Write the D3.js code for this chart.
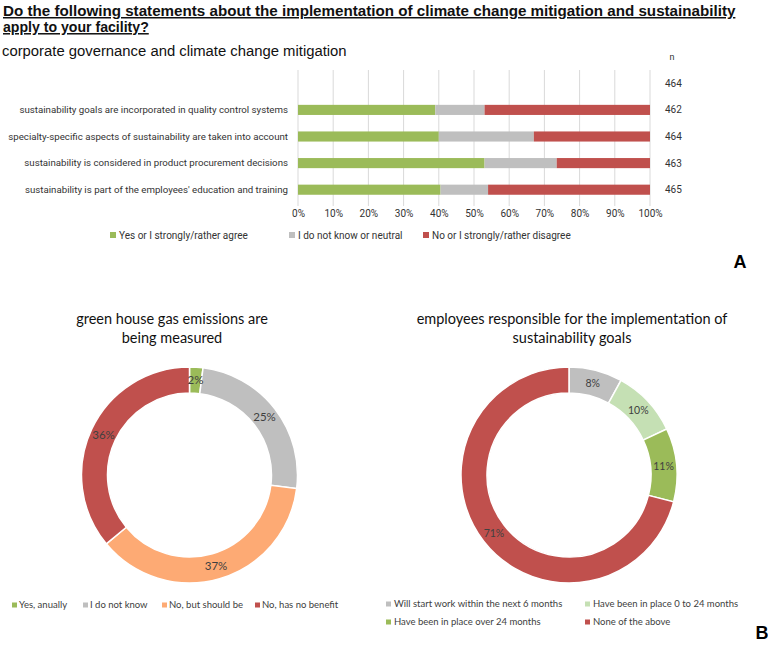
<!DOCTYPE html>
<html><head><meta charset="utf-8">
<script src="https://cdn.jsdelivr.net/npm/d3@7"></script>
<style>body{margin:0;background:#fff}svg{display:block}</style>
</head><body>
<script>
// ---------- DATA ----------
const titleLines = ["Do the following statements about the implementation of climate change mitigation and sustainability", "apply to your facility?"];
const barTitle = "corporate governance and climate change mitigation";
const barCategories = ["",
  "sustainability goals are incorporated in quality control systems",
  "specialty-specific aspects of sustainability are taken into account",
  "sustainability is considered in product procurement decisions",
  "sustainability is part of the employees' education and training"];
const agreeVals = [null, 39, 40, 53, 40.5];
const neutralVals = [null, 14, 27, 20.5, 13.5];
const disagreeVals = [null, 47, 33, 26.5, 46];
const nVals = [464, 462, 464, 463, 465];
const barSeries = ["Yes or I strongly/rather agree", "I do not know or neutral", "No or I strongly/rather disagree"];
const xTickVals = [0,10,20,30,40,50,60,70,80,90,100];

const ghgTitle = ["green house gas emissions are", "being measured"];
const ghgLabels = ["Yes, anually", "I do not know", "No, but should be", "No, has no benefit"];
const ghgVals = [2, 25, 37, 36];

const empTitle = ["employees responsible for the implementation of", "sustainability goals"];
const empLabels = ["Will start work within the next 6 months", "Have been in place 0 to 24 months", "Have been in place over 24 months", "None of the above"];
const empVals = [8, 10, 11, 71];

// ---------- STYLE ----------
const cGreen = "#9BBB59", cGray = "#BFBFBF", cRed = "#C0504D", cOrange = "#FDAA74", cLight = "#C5E0B4";
const barColors = [cGreen, cGray, cRed];
const ghgColors = [cGreen, cGray, cOrange, cRed];
const empColors = [cGray, cLight, cGreen, cRed];

const W = 768, H = 650;
const svg = d3.select("body").append("svg").attr("width", W).attr("height", H);

// ---------- TITLE ----------
const narrow = "'Liberation Sans',sans-serif";
function fitText(x0, y0, txt, targetW, opts) {
  const t = svg.append("text").attr("x", 0).attr("y", 0).attr("font-family", narrow)
    .attr("font-size", opts.size).attr("fill", "#111")
    .attr("font-weight", opts.bold ? "bold" : "normal")
    .attr("text-decoration", opts.underline ? "underline" : null).text(txt);
  const w = t.node().getComputedTextLength();
  t.attr("transform", `translate(${x0},${y0}) scale(${targetW / w},1)`);
  return t;
}
fitText(3, 16, titleLines[0], 733, {size: 15, bold: true, underline: true});
fitText(3, 32, titleLines[1], 146, {size: 15, bold: true, underline: true});
fitText(2, 56, barTitle, 345, {size: 15});

// ---------- BAR CHART ----------
const x = d3.scaleLinear().domain([0, 100]).range([298, 650]);
const y = d3.scaleBand().domain(d3.range(barCategories.length)).range([70, 203]).paddingInner(0.62).paddingOuter(0.31);
const gBar = svg.append("g").attr("font-family", "Roboto, 'Liberation Sans', sans-serif");

// grid
gBar.append("g").selectAll("line").data(xTickVals).join("line")
  .attr("x1", d => x(d)).attr("x2", d => x(d)).attr("y1", 70).attr("y2", 206)
  .attr("stroke", "#d9d9d9").attr("stroke-width", 1);

// x axis
const xAxis = d3.axisBottom(x).tickValues(xTickVals).tickFormat(d => d + "%").tickSize(0).tickPadding(0);
const ax = gBar.append("g").attr("transform", "translate(0,210)").call(xAxis);
ax.select(".domain").remove();
ax.selectAll("text").attr("font-size", 10).attr("fill", "#333").attr("font-family", "Roboto, 'Liberation Sans', sans-serif");

// stacked bars
const stackRows = barCategories.map((c, i) => ({i, a: agreeVals[i], b: neutralVals[i], c: disagreeVals[i]}));
const stacked = d3.stack().keys(["a", "b", "c"]).value((d, k) => d[k] == null ? 0 : d[k])(stackRows);
stacked.forEach((s, si) => {
  gBar.append("g").selectAll("rect").data(s.filter(d => d.data.a != null)).join("rect")
    .attr("x", d => x(d[0])).attr("width", d => x(d[1]) - x(d[0]))
    .attr("y", d => y(d.data.i)).attr("height", y.bandwidth())
    .attr("fill", barColors[si]);
});

// category labels
const yAxis = d3.axisLeft(y).tickFormat(i => barCategories[i]).tickSize(0).tickPadding(0);
const ay = gBar.append("g").attr("transform", "translate(288,0)").call(yAxis);
ay.select(".domain").remove();
ay.selectAll("text").attr("font-size", 9.7).attr("fill", "#333").attr("font-family", "Roboto, 'Liberation Sans', sans-serif");

// n column
gBar.append("text").attr("x", 672).attr("y", 60).attr("font-size", 9).attr("fill", "#333").attr("text-anchor", "middle").text("n");
gBar.append("g").selectAll("text").data(nVals).join("text")
  .attr("x", 665).attr("y", (d, i) => y(i) + y.bandwidth() / 2).attr("dy", "0.35em")
  .attr("font-size", 10).attr("fill", "#333").text(d => d);

// bar legend
const barLegX = [110, 289, 423];
const bl = gBar.append("g").selectAll("g").data(barSeries).join("g")
  .attr("transform", (d, i) => `translate(${barLegX[i]},235)`);
bl.append("rect").attr("x", 0).attr("y", -3).attr("width", 6).attr("height", 6).attr("fill", (d, i) => barColors[i]);
bl.append("text").attr("x", 9).attr("dy", "0.35em").attr("font-size", 10).attr("fill", "#333").text(d => d);

// panel letters
svg.append("text").attr("x", 740).attr("y", 268).attr("text-anchor", "middle").attr("font-family", "'Liberation Sans',sans-serif")
  .attr("font-weight", "bold").attr("font-size", 18).attr("fill", "#000").text("A");
svg.append("text").attr("x", 762).attr("y", 639).attr("text-anchor", "middle").attr("font-family", "'Liberation Sans',sans-serif")
  .attr("font-weight", "bold").attr("font-size", 18).attr("fill", "#000").text("B");

// ---------- DONUTS ----------
const pie = d3.pie().sort(null).value(d => d);
const arc = d3.arc().innerRadius(82).outerRadius(108);
const labelArc = d3.arc().innerRadius(95).outerRadius(95);

function donut(cx, cy, tcx, title, vals, colors, fs) {
  const g = svg.append("g").attr("font-family", "Lato, 'Open Sans', sans-serif");
  g.append("g").selectAll("text").data(title).join("text")
    .attr("x", tcx).attr("y", (d, i) => 324 + i * 19).attr("text-anchor", "middle")
    .attr("font-size", 14.5).attr("fill", "#111").text(d => d);
  const gc = g.append("g").attr("transform", `translate(${cx},${cy})`);
  const arcs = pie(vals);
  gc.selectAll("path").data(arcs).join("path").attr("d", arc)
    .attr("fill", (d, i) => colors[i]).attr("stroke", "#fff").attr("stroke-width", 1.5);
  gc.selectAll("text").data(arcs).join("text")
    .attr("transform", d => `translate(${labelArc.centroid(d)})`)
    .attr("text-anchor", "middle").attr("dy", "0.35em").attr("font-size", fs).attr("fill", "#404040")
    .text(d => d.data + "%");
}
donut(189.5, 475, 172, ghgTitle, ghgVals, ghgColors, 11.5);
donut(569, 475, 572, empTitle, empVals, empColors, 10.5);

// legends
const ghgLegX = [12, 83, 162, 255];
const gl = svg.append("g").attr("font-family", "Lato, 'Open Sans', sans-serif").selectAll("g").data(ghgLabels).join("g")
  .attr("transform", (d, i) => `translate(${ghgLegX[i]},605)`);
gl.append("rect").attr("x", 0).attr("y", -2.5).attr("width", 5).attr("height", 5).attr("fill", (d, i) => ghgColors[i]);
gl.append("text").attr("x", 7).attr("dy", "0.35em").attr("font-size", 9.5).attr("fill", "#404040").text(d => d);

const empLegPos = [[386, 604], [585, 604], [386, 622], [585, 622]];
const el = svg.append("g").attr("font-family", "Lato, 'Open Sans', sans-serif").selectAll("g").data(empLabels).join("g")
  .attr("transform", (d, i) => `translate(${empLegPos[i][0]},${empLegPos[i][1]})`);
el.append("rect").attr("x", 0).attr("y", -2.5).attr("width", 5).attr("height", 5).attr("fill", (d, i) => empColors[i]);
el.append("text").attr("x", 8).attr("dy", "0.35em").attr("font-size", 9.5).attr("fill", "#404040").text(d => d);
</script>
</body></html>
